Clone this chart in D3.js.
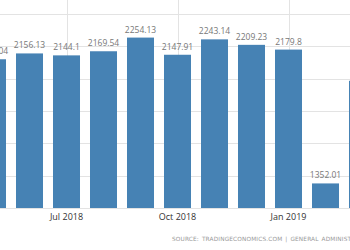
<!DOCTYPE html>
<html>
<head>
<meta charset="utf-8">
<script src="https://cdn.jsdelivr.net/npm/d3@7"></script>
<style>
html,body{margin:0;padding:0;background:#fff;overflow:hidden;}
svg{display:block;}
</style>
</head>
<body>
<svg id="chart" width="350" height="250"></svg>
<script>
const months = ["May 2018","Jun 2018","Jul 2018","Aug 2018","Sep 2018","Oct 2018","Nov 2018","Dec 2018","Jan 2019","Feb 2019","Mar 2019"];
const values = [2120.04, 2156.13, 2144.1, 2169.54, 2254.13, 2147.91, 2243.14, 2209.23, 2179.8, 1352.01, 1986.73];
const labels = ["2120.04","2156.13","2144.1","2169.54","2254.13","2147.91","2243.14","2209.23","2179.8","1352.01","1986.73"];
const tickMonths = ["Jul 2018","Oct 2018","Jan 2019"];
const yTicks = [1200, 1400, 1600, 1800, 2000, 2200, 2400];
const sourceText = "SOURCE: TRADINGECONOMICS.COM | GENERAL ADMINISTRATION OF CUSTOMS";

const svg = d3.select("#chart");
const x = d3.scaleBand().domain(months).range([-26, 381]).paddingInner(0.27).paddingOuter(0.135);
const y = d3.scaleLinear().domain([1200, 2400]).range([208, 14]);

// horizontal grid
svg.append("g").selectAll("line").data(yTicks).join("line")
  .attr("x1", 0).attr("x2", 350)
  .attr("y1", d => Math.round(y(d)) + 0.5).attr("y2", d => Math.round(y(d)) + 0.5)
  .attr("stroke", "#e3e3e3").attr("stroke-width", 1);

// vertical grid
svg.append("g").selectAll("line").data(tickMonths).join("line")
  .attr("x1", d => Math.round(x(d) + x.bandwidth()/2) + 0.5)
  .attr("x2", d => Math.round(x(d) + x.bandwidth()/2) + 0.5)
  .attr("y1", 0).attr("y2", 208)
  .attr("stroke", "#e3e3e3").attr("stroke-width", 1);

// bars
svg.append("g").selectAll("rect").data(values).join("rect")
  .attr("x", (d, i) => x(months[i]))
  .attr("width", x.bandwidth())
  .attr("y", d => y(d))
  .attr("height", d => y(1200) - y(d))
  .attr("fill", "#4682b4");

// value labels (the last one lies outside the visible plot in the reference)
const visible = values.map((d, i) => i).filter(i => x(months[i]) + x.bandwidth()/2 < 350);
svg.append("g").selectAll("text").data(visible).join("text")
  .attr("x", i => x(months[i]) + x.bandwidth()/2)
  .attr("y", i => y(values[i]) - 5)
  .attr("text-anchor", "middle")
  .attr("font-family", "'Open Sans', sans-serif")
  .attr("font-size", "8.5px")
  .attr("fill", "#777")
  .text(i => labels[i]);

// x axis
const xAxis = d3.axisBottom(x).tickValues(tickMonths).tickSize(0).tickPadding(6);
const gx = svg.append("g").attr("transform", "translate(0,208)").call(xAxis);
gx.select(".domain").remove();
gx.selectAll("text")
  .attr("font-family", "'Open Sans', sans-serif")
  .attr("font-size", "9px")
  .attr("fill", "#333");

// source
svg.append("text")
  .attr("x", 172).attr("y", 241)
  .attr("font-family", "'DejaVu Sans', sans-serif")
  .attr("font-size", "5.8px")
  .attr("letter-spacing", "0.15px")
  .attr("word-spacing", "1px")
  .attr("fill", "#999")
  .text(sourceText);
</script>
</body>
</html>
